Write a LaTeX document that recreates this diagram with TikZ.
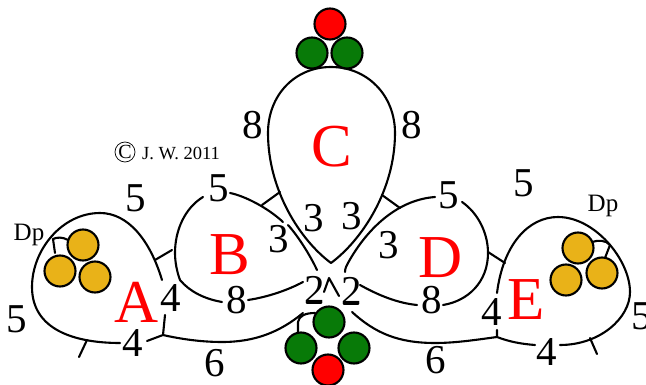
\documentclass[tikz,border=0pt]{standalone}
\usepackage{fontspec}
\setmainfont{Liberation Serif}
\tikzset{
  wire/.style={line width=2.1pt,line cap=round,line join=round},
  num/.style={inner sep=0pt,xshift=1pt,font=\fontsize{41}{41}\selectfont},
  reg/.style={inner sep=0pt,text=red,font=\fontsize{61}{61}\selectfont},
  small/.style={inner sep=0pt,font=\fontsize{25}{25}\selectfont},
  dot/.style={circle,draw=black,line width=2.1pt,minimum size=31pt,inner sep=0pt},
  gold/.style={dot,fill=goldc},
  grn/.style={dot,fill=greenc},
  rd/.style={dot,fill=red}
}
\definecolor{goldc}{RGB}{233,178,24}
\definecolor{greenc}{RGB}{8,122,8}
\begin{document}
\begin{tikzpicture}[x=1pt,y=-1pt]
\useasboundingbox (0,0) rectangle (646,385);
% C
\draw[wire] (331,263) .. controls (300,240) and (268,190) .. (268,133)
  .. controls (268,95) and (295,67) .. (331,67)
  .. controls (367,67) and (395,95) .. (395,133)
  .. controls (395,190) and (362,240) .. (331,263);
% B
\draw[wire] (203,197) .. controls (185,208) and (175,230) .. (175,253) .. controls (175,262) and (177,272) .. (180,280)
  .. controls (190,292) and (205,299) .. (222,302);
\draw[wire] (248,300) .. controls (268,297) and (288,290) .. (303,282);
\draw[wire] (230,193) .. controls (245,196) and (268,208) .. (283,222);
\draw[wire] (288,225) .. controls (298,236) and (310,255) .. (317,270);
\draw[wire] (262,205) -- (280,192);
% D
\draw[wire] (345,272) .. controls (345,268) and (347,265) .. (348,263) .. controls (365,232) and (395,200) .. (435,197);
\draw[wire] (462,202) .. controls (478,213) and (488,233) .. (488,253) .. controls (488,282) and (468,301) .. (443,305);
\draw[wire] (417,305) .. controls (397,303) and (378,295) .. (360,285);
\draw[wire] (400,208) -- (382,195);
\draw[wire] (488,252) -- (505,263);
% A
\draw[wire] (120,343) .. controls (75,343) and (32,330) .. (32,287)
  .. controls (32,250) and (62,213) .. (100,213)
  .. controls (128,213) and (150,240) .. (162,280);
\draw[wire] (155,260) -- (172,250);
\draw[wire] (87,340) -- (79,357);
\draw[wire] (53,239) -- (55,253);
\draw[wire] (53,239) .. controls (57,237) and (63,237) .. (68,240);
% E
\draw[wire] (497,293) .. controls (503,245) and (528,217) .. (558,217)
  .. controls (595,217) and (630,260) .. (630,292)
  .. controls (630,318) and (600,345) .. (560,345);
\draw[wire] (590,338) -- (597,354);
\draw[wire] (592,242) .. controls (598,240) and (606,240) .. (610,245);
\draw[wire] (610,245) -- (605,258);
% bottom rail
\draw[wire] (165,315) -- (163,335) -- (147,341);
\draw[wire] (163,335) .. controls (185,340) and (205,342) .. (222,342) .. controls (255,342) and (280,332) .. (303,313);
\draw[wire] (497,330) -- (497,337) .. controls (510,342) and (522,344) .. (535,345);
\draw[wire] (497,337) .. controls (475,340) and (455,343) .. (435,343) .. controls (398,343) and (375,333) .. (352,312);
\draw[wire] (298,333) -- (298,322) .. controls (299,316) and (305,313) .. (315,313);
% caret
\draw[wire] (324,292) -- (329,278) -- (339,296);
% bases of the 2s
\draw[wire] (307,303) -- (321,303);
\draw[wire] (344,304) -- (358,304);
% circles
\node[rd] (t1) at (330,24) {};
\node[grn] (t2) at (312,53) {};
\node[grn] (t3) at (347,53) {};
\node[grn] (b1) at (329,322) {};
\node[grn] (b2) at (301,348) {};
\node[grn] (b3) at (354,348) {};
\node[rd] (b4) at (328,370) {};
\node[gold] (a1) at (83,245) {};
\node[gold] (a2) at (60,271) {};
\node[gold] (a3) at (95,277) {};
\node[gold] (e1) at (578,248) {};
\node[gold] (e2) at (566,280) {};
\node[gold] (e3) at (602,273) {};
% numbers
\node[num] (n1) at (135,198) {5};
\node[num] (n2) at (218,188) {5};
\node[num] (n3) at (448,195) {5};
\node[num] (n4) at (523,183) {5};
\node[num] (n5) at (16,319) {5};
\node[num] (n6) at (641,316) {5};
\node[num] (n7) at (252,125) {8};
\node[num] (n8) at (411,125) {8};
\node[num] (n9) at (236,300) {8};
\node[num] (n10) at (431,300) {8};
\node[num] (n11) at (313,218) {3};
\node[num] (n12) at (351,216) {3};
\node[num] (n13) at (278,239) {3};
\node[num] (n14) at (388,245) {3};
\node[num] (n15) at (170,298) {4};
\node[num] (n16) at (132,343) {4};
\node[num] (n17) at (491,312) {4};
\node[num] (n18) at (546,352) {4};
\node[num] (n19) at (214,363) {6};
\node[num] (n20) at (435,360) {6};
\node[num] (n21) at (314,290) {2};
\node[num] (n22) at (351,291) {2};
% regions
\node[reg] (A) at (137,302) {A};
\node[reg] (B) at (230,255) {B};
\node[reg] (C) at (332,147) {C};
\node[reg] (D) at (441,258) {D};
\node[reg] (E) at (526,300) {E};
% small
\node[small] (dp1) at (29,235) {Dp};
\node[small] (dp2) at (603,206) {Dp};
\node[draw,circle,line width=.7pt,minimum size=20pt,inner sep=0pt,font=\fontsize{20}{20}\selectfont] (cr) at (125,152) {C};
\node[inner sep=0pt,font=\fontsize{18.5}{18.5}\selectfont] (jw) at (181,153) {J. W. 2011};
\end{tikzpicture}
\end{document}
